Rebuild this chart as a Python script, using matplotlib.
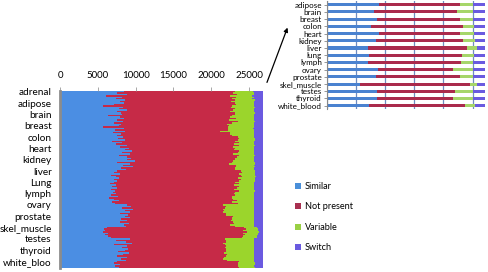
import matplotlib
matplotlib.use("Agg")
import matplotlib.pyplot as plt
from matplotlib.patches import Patch
import numpy as np

plt.rcParams['font.family'] = ['Lato', 'DejaVu Sans']

# ---------------- main chart data (per sample rows) ----------------
tissues = ["adrenal", "adipose", "brain", "breast", "colon", "heart", "kidney", "liver",
           "Lung", "lymph", "ovary", "prostate", "skel_muscle", "testes", "thyroid", "white_bloo"]

similar = {
    "adrenal":     [8400, 7600, 8800, 6100, 8200, 7400, 8600, 7900],
    "adipose":     [8500, 7200, 5700, 8300, 7800, 8900, 7500, 8100],
    "brain":       [8200, 6300, 7900, 8500, 7600, 8300, 7100, 8000],
    "breast":      [7800, 5700, 8400, 7300, 8600, 7000, 8100, 7600],
    "colon":       [8300, 7700, 8600, 6900, 8200, 7400, 8800, 7900],
    "heart":       [9100, 8600, 9500, 8200, 9300, 7800, 8900, 9400],
    "kidney":      [8800, 9900, 7600, 9200, 8300, 9600, 8000, 8700],
    "liver":       [7600, 7100, 7900, 6800, 7400, 7800, 7200, 7500],
    "Lung":        [7200, 6600, 7400, 6900, 7500, 6700, 7300, 7000],
    "lymph":       [7400, 6800, 7700, 6500, 7200, 7800, 6900, 7300],
    "ovary":       [8900, 9400, 8200, 9700, 8600, 9200, 7900, 9000],
    "prostate":    [8600, 9300, 8100, 8800, 7900, 9100, 8400, 8700],
    "skel_muscle": [6200, 5800, 6000, 5700, 6300, 5900, 6400, 6800],
    "testes":      [9200, 7400, 8700, 9500, 7100, 8900, 8200, 9000],
    "thyroid":     [8600, 7700, 9100, 8300, 7500, 8900, 8100, 8700],
    "white_bloo":  [7600, 7100, 7900, 7300, 7800],
}
not_present = {
    "adrenal":     [14800, 15300, 14600, 16400, 15100, 15400, 14500, 14700],
    "adipose":     [14600, 16100, 17000, 14300, 15400, 14000, 15000, 15100],
    "brain":       [14900, 16500, 14600, 14800, 14800, 15200, 15700, 14100],
    "breast":      [14600, 16500, 13800, 14900, 12500, 15500, 14400, 15100],
    "colon":       [15200, 15900, 14900, 16300, 15500, 15600, 14900, 15000],
    "heart":       [14100, 14400, 14100, 15300, 13600, 15900, 14500, 13800],
    "kidney":      [14300, 13000, 15200, 13100, 15000, 13700, 15200, 14500],
    "liver":       [16300, 16900, 15800, 17100, 16600, 15700, 16700, 16200],
    "Lung":        [16000, 17000, 15600, 16800, 15900, 16300, 16400, 16100],
    "lymph":       [15600, 16400, 15000, 16300, 15700, 15600, 15800, 16200],
    "ovary":       [12700, 12600, 13600, 11900, 13100, 12400, 14000, 12900],
    "prostate":    [14300, 13400, 14700, 13800, 15000, 13900, 14100, 14500],
    "skel_muscle": [18100, 18800, 18200, 19000, 17900, 18600, 17800, 17200],
    "testes":      [12600, 14600, 13200, 12000, 14700, 13100, 13600, 12900],
    "thyroid":     [13300, 14200, 12600, 13800, 14400, 12800, 13500, 13400],
    "white_bloo":  [16000, 16400, 15600, 16200, 15900],
}
variable = {
    "adrenal":     [2300, 2700, 2200, 2900, 2400, 2600, 2700, 3000],
    "adipose":     [2600, 2300, 3000, 3200, 2500, 2700, 3100, 2600],
    "brain":       [2500, 2800, 3200, 2300, 3300, 2300, 2900, 3500],
    "breast":      [3300, 3500, 3300, 3400, 4600, 3100, 3200, 3000],
    "colon":       [2200, 2200, 2300, 2500, 2000, 2700, 2100, 2800],
    "heart":       [2500, 2700, 2000, 2200, 2800, 2100, 2300, 2400],
    "kidney":      [2600, 2700, 3000, 3500, 2400, 2500, 2500, 2500],
    "liver":       [1900, 1800, 2100, 1900, 1900, 2300, 1900, 2100],
    "Lung":        [2500, 2100, 2700, 2000, 2300, 2700, 2100, 2600],
    "lymph":       [2700, 2500, 3000, 2900, 2800, 2300, 3000, 2200],
    "ovary":       [4100, 3700, 3900, 4100, 4000, 4100, 3800, 3800],
    "prostate":    [2800, 3000, 2900, 3100, 2800, 2700, 3200, 2500],
    "skel_muscle": [1800, 1600, 2000, 1600, 2000, 1700, 1900, 2000],
    "testes":      [3900, 3700, 3800, 4200, 3900, 3700, 3900, 3800],
    "thyroid":     [3800, 3800, 4000, 3600, 3800, 4000, 4100, 3600],
    "white_bloo":  [2100, 2300, 2300, 2200, 2100],
}
switch = {
    "adrenal":     [1400, 1300, 1300, 1500, 1200, 1500, 1100, 1300],
    "adipose":     [1200, 1300, 1200, 1100, 1200, 1300, 1300, 1100],
    "brain":       [1300, 1300, 1200, 1300, 1200, 1100, 1200, 1300],
    "breast":      [1200, 1200, 1400, 1300, 1200, 1300, 1200, 1200],
    "colon":       [1200, 1100, 1100, 1200, 1200, 1200, 1100, 1200],
    "heart":       [1200, 1200, 1300, 1200, 1200, 1100, 1200, 1300],
    "kidney":      [1200, 1300, 1100, 1100, 1200, 1100, 1200, 1200],
    "liver":       [1100, 1100, 1100, 1100, 1000, 1100, 1100, 1100],
    "Lung":        [1200, 1200, 1200, 1200, 1200, 1200, 1100, 1200],
    "lymph":       [1200, 1200, 1200, 1200, 1200, 1200, 1200, 1200],
    "ovary":       [1200, 1200, 1200, 1200, 1200, 1200, 1200, 1200],
    "prostate":    [1200, 1200, 1200, 1200, 1200, 1200, 1200, 1200],
    "skel_muscle": [800, 700, 700, 600, 700, 700, 800, 900],
    "testes":      [1200, 1200, 1200, 1200, 1200, 1200, 1200, 1200],
    "thyroid":     [1200, 1200, 1200, 1200, 1200, 1200, 1200, 1200],
    "white_bloo":  [1200, 1100, 1100, 1200, 1100],
}
main_ticks = [0, 5000, 10000, 15000, 20000, 25000]

# ---------------- inset data (tissue averages) ----------------
inset_tissues = ["adipose", "brain", "breast", "colon", "heart", "kidney", "liver", "lung",
                 "lymph", "ovary", "prostate", "skel_muscle", "testes", "thyroid", "white_blood"]
inset_similar = [8970, 8170, 8570, 7600, 8970, 8460, 7090, 7310, 7090, 8740, 8460, 5710, 8690, 8570, 7310]
inset_not_present = [13940, 14120, 14340, 15710, 13940, 14850, 17020, 15890, 15940, 12860, 14450, 18800, 13250, 13140, 16460]
inset_variable = [2230, 2740, 2200, 1950, 2260, 2130, 1600, 2060, 2110, 3430, 2230, 1200, 3090, 3320, 1660]
inset_switch = [1960, 2070, 1990, 1840, 1930, 1660, 1390, 1840, 1960, 2070, 1960, 1390, 2070, 2070, 1670]

series_names = ["Similar", "Not present", "Variable", "Switch"]
main_colors = ["#4b8ee3", "#c62a47", "#9bd52c", "#6b5ae0"]
inset_colors = ["#4a82d0", "#aa2a4c", "#a6d66a", "#6a5ae0"]
legend_colors = ["#4a8fd9", "#a83050", "#99d044", "#6a5ae0"]

fig = plt.figure(figsize=(4.88, 2.72), dpi=100)

# ---------------- main axes ----------------
W, H = 488.0, 272.0
ax = fig.add_axes([60 / W, 1 - 268 / H, 205 / W, 177 / H])
S, N, V, Sw = [], [], [], []
tick_pos = []
for t in tissues:
    tick_pos.append(len(S))
    S += similar[t]; N += not_present[t]; V += variable[t]; Sw += switch[t]
S, N, V, Sw = map(np.array, (S, N, V, Sw))
y = np.arange(len(S))
left = np.zeros(len(S))
for vals, c in zip((S, N, V, Sw), main_colors):
    ax.barh(y, vals, left=left, height=1.0, color=c, linewidth=0, antialiased=False)
    left = left + vals
ax.set_ylim(len(S) - 0.5, -0.5)
ax.set_xlim(0, 27100)
ax.set_yticks(tick_pos)
ax.set_yticklabels(tissues, fontsize=7.2)
ax.set_xticks(main_ticks)
ax.set_xticklabels([str(v) for v in main_ticks], fontsize=7.0)
ax.xaxis.tick_top()
ax.tick_params(axis='x', length=3, width=0.6, color='#999999', pad=5)
ax.tick_params(axis='y', length=0, pad=6)
for s in ('right', 'bottom', 'top'):
    ax.spines[s].set_visible(False)
ax.spines['left'].set_color('#8c8c8c')
ax.spines['left'].set_linewidth(2.0)

# ---------------- inset axes ----------------
ax2 = fig.add_axes([326.7 / W, 1 - 109.3 / H, 161.3 / W, 108.2 / H])
yi = np.arange(len(inset_tissues))
left = np.zeros(len(inset_tissues))
for vals, c in zip((inset_similar, inset_not_present, inset_variable, inset_switch), inset_colors):
    vals = np.array(vals)
    ax2.barh(yi, vals, left=left, height=0.42, color=c, linewidth=0, zorder=2)
    left = left + vals
ax2.set_ylim(len(inset_tissues) - 0.5, -0.5)
ax2.set_xlim(0, 27650)
ax2.set_xticks(main_ticks)
ax2.set_xticklabels([])
ax2.tick_params(axis='x', length=0)
ax2.grid(axis='x', color='#6f8cc0', linewidth=0.9, zorder=1)
ax2.set_axisbelow(True)
ax2.set_yticks(yi)
ax2.set_yticklabels(inset_tissues, fontsize=5.8)
ax2.tick_params(axis='y', length=2, width=0.6, color='#888888', pad=1.5)
for s in ('right', 'bottom', 'top'):
    ax2.spines[s].set_visible(False)
ax2.spines['left'].set_color('#888888')
ax2.spines['left'].set_linewidth(0.8)

# ---------------- legend ----------------
handles = [Patch(facecolor=c, edgecolor='none', label=n) for c, n in zip(legend_colors, series_names)]
fig.legend(handles=handles, loc='upper left', bbox_to_anchor=(295 / W, 1 - 182 / H),
           frameon=False, fontsize=6.6, handlelength=0.6, handleheight=0.6,
           handletextpad=0.5, labelspacing=1.25, borderpad=0, borderaxespad=0)

# ---------------- arrow ----------------
fig.add_artist(matplotlib.patches.FancyArrowPatch(
    (266 / W, 1 - 85 / H), (288.5 / W, 1 - 25 / H), transform=fig.transFigure,
    arrowstyle='-|>', mutation_scale=6, color='black', linewidth=0.9))

fig.savefig("out.png", dpi=100)
